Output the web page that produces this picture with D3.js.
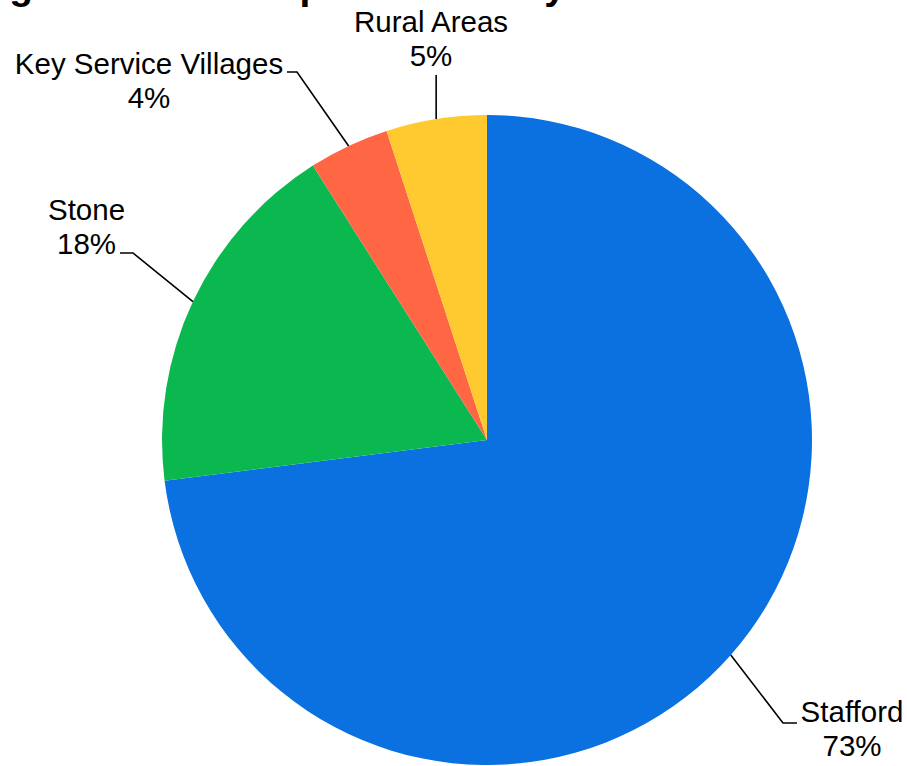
<!DOCTYPE html>
<html>
<head>
<meta charset="utf-8">
<script src="https://cdn.jsdelivr.net/npm/d3@7/dist/d3.min.js"></script>
<style>
  html, body { margin: 0; padding: 0; background: #ffffff; }
  svg { display: block; }
  text { font-family: "Liberation Sans", Arial, sans-serif; fill: #000; }
</style>
</head>
<body>
<svg id="chart" width="907" height="766"></svg>
<script>
// Share of housing by settlement area (percent)
const areas = ["Stafford", "Stone", "Key Service Villages", "Rural Areas"];
const shares = [73, 18, 4, 5];
const colours = ["#0b70e0", "#0bb84f", "#ff6644", "#ffca30"];
const titleText = "Housing Distribution Split of Sites by Area";

const width = 907, height = 766;
const cx = 487, cy = 440, radius = 325;

// Label placement around the pie, relative to its centre:
// tx/ty = text centre and first baseline, ex/ey = end of leader line,
// elbow = horizontal run of the leader (0 means a straight vertical leader)
const labelLayout = {
  "Stafford":             { tx: 365,    ty: 282,  ex: 310,  ey: 283,  elbow: -14 },
  "Stone":                { tx: -400.5, ty: -220, ex: -367, ey: -187, elbow: 13 },
  "Key Service Villages": { tx: -338,   ty: -366, ex: -200, ey: -368, elbow: 10 },
  "Rural Areas":          { tx: -56,    ty: -408, ex: null, ey: -365, elbow: 0 }
};

const svg = d3.select("#chart");

// Title (sits at the very top edge of the canvas)
svg.append("text")
  .attr("x", -123)
  .attr("y", -1)
  .style("font-size", "39px")
  .style("font-weight", "bold")
  .text(titleText);

const data = areas.map((a, i) => ({ area: a, value: shares[i], colour: colours[i] }));

const pie = d3.pie().sort(null).value(d => d.value).startAngle(0).endAngle(2 * Math.PI);
const arc = d3.arc().innerRadius(0).outerRadius(radius);

const g = svg.append("g").attr("transform", `translate(${cx},${cy})`);
const arcs = pie(data);

g.selectAll("path.slice")
  .data(arcs)
  .join("path")
  .attr("class", "slice")
  .attr("d", arc)
  .attr("fill", d => d.data.colour);

// Leader lines and labels
const lineHeight = 34;
arcs.forEach(d => {
  const lay = labelLayout[d.data.area];
  const mid = (d.startAngle + d.endAngle) / 2;
  const px = radius * Math.sin(mid);
  const py = -radius * Math.cos(mid);
  let pts;
  if (lay.elbow === 0) {
    pts = [[px, py], [px, lay.ey]];
  } else {
    pts = [[px, py], [lay.ex + lay.elbow, lay.ey], [lay.ex, lay.ey]];
  }
  g.append("path")
    .attr("d", d3.line()(pts))
    .attr("fill", "none")
    .attr("stroke", "#000")
    .attr("stroke-width", 1.6);

  const t = g.append("text")
    .attr("text-anchor", "middle")
    .style("font-size", "29.5px");
  t.append("tspan").attr("x", lay.tx).attr("y", lay.ty).text(d.data.area);
  t.append("tspan").attr("x", lay.tx).attr("y", lay.ty + lineHeight).text(d3.format(".0f")(d.data.value) + "%");
});
</script>
</body>
</html>
